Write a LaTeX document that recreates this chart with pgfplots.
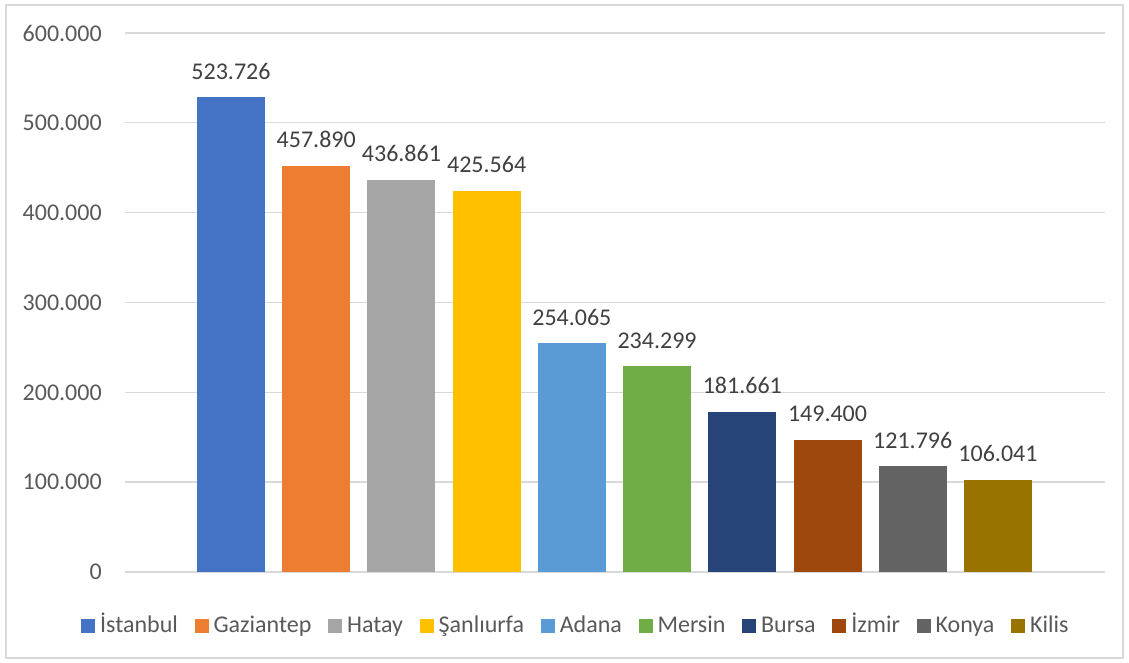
\documentclass[border=0pt]{standalone}
\usepackage{fontspec}
\setmainfont{Carlito}
\usepackage{pgfplots}
\pgfplotsset{compat=1.18}
\definecolor{c1}{HTML}{4472C4}
\definecolor{c2}{HTML}{ED7D31}
\definecolor{c3}{HTML}{A5A5A5}
\definecolor{c4}{HTML}{FFC000}
\definecolor{c5}{HTML}{5B9BD5}
\definecolor{c6}{HTML}{70AD47}
\definecolor{c7}{HTML}{264478}
\definecolor{c8}{HTML}{9E480E}
\definecolor{c9}{HTML}{636363}
\definecolor{c10}{HTML}{997300}
\definecolor{txt}{HTML}{595959}
\definecolor{lbl}{HTML}{404040}
\definecolor{grd}{HTML}{D9D9D9}
\newcommand{\chfont}{\fontsize{18}{21.6}\selectfont}
\begin{document}
\begin{tikzpicture}
\useasboundingbox (0,0) rectangle (846.75pt,497.25pt);
\draw[grd, line width=1pt] (4.5pt,3.75pt) rectangle (842.25pt,493.5pt);
\begin{axis}[
  at={(93.75pt,68.25pt)}, anchor=south west,
  scale only axis, width=735pt, height=404.25pt,
  xmin=-1.244, xmax=10.256, ymin=0, ymax=600000,
  ytick={0,100000,200000,300000,400000,500000,600000},
  xtick=\empty,
  axis line style={draw=none},
  major tick length=0pt,
  ymajorgrids, grid style={grd, line width=1pt},
  scaled y ticks=false,
  ybar, bar width=51pt,
  clip=false,
  /pgf/number format/.cd, fixed, precision=0, 1000 sep={.}, assume math mode=true,
  /pgfplots/.cd,
  yticklabel style={font=\chfont, text=txt, anchor=east, inner sep=0pt, xshift=-17.25pt},
  point meta=explicit symbolic,
  nodes near coords,
  nodes near coords style={font=\chfont, text=lbl, anchor=base, inner sep=0pt, yshift=13.5pt},
  legend columns=10,
  legend image code/.code={\fill[#1] (0pt,0pt) rectangle (10.5pt,10.5pt);},
  legend style={at={(0.459,-0.0965)}, anchor=center, draw=none, fill=none,
    font=\chfont, text=txt, nodes={inner sep=0pt}, cells={anchor=base west},
    /tikz/every odd column/.append style={column sep=3.75pt},
    /tikz/every even column/.append style={column sep=12.5pt}},
]
\addplot[fill=c1, draw=none, bar shift=0pt] coordinates {(0,528300) [523.726]};
\addlegendentry{İstanbul}
\addplot[fill=c2, draw=none, bar shift=0pt] coordinates {(1,452000) [457.890]};
\addlegendentry{Gaziantep}
\addplot[fill=c3, draw=none, bar shift=0pt] coordinates {(2,436500) [436.861]};
\addlegendentry{Hatay}
\addplot[fill=c4, draw=none, bar shift=0pt] coordinates {(3,424300) [425.564]};
\addlegendentry{Şanlıurfa}
\addplot[fill=c5, draw=none, bar shift=0pt] coordinates {(4,254600) [254.065]};
\addlegendentry{Adana}
\addplot[fill=c6, draw=none, bar shift=0pt] coordinates {(5,229000) [234.299]};
\addlegendentry{Mersin}
\addplot[fill=c7, draw=none, bar shift=0pt] coordinates {(6,178400) [181.661]};
\addlegendentry{Bursa}
\addplot[fill=c8, draw=none, bar shift=0pt] coordinates {(7,147200) [149.400]};
\addlegendentry{İzmir}
\addplot[fill=c9, draw=none, bar shift=0pt] coordinates {(8,117500) [121.796]};
\addlegendentry{Konya}
\addplot[fill=c10, draw=none, bar shift=0pt] coordinates {(9,102800) [106.041]};
\addlegendentry{Kilis}
\end{axis}
\end{tikzpicture}
\end{document}
